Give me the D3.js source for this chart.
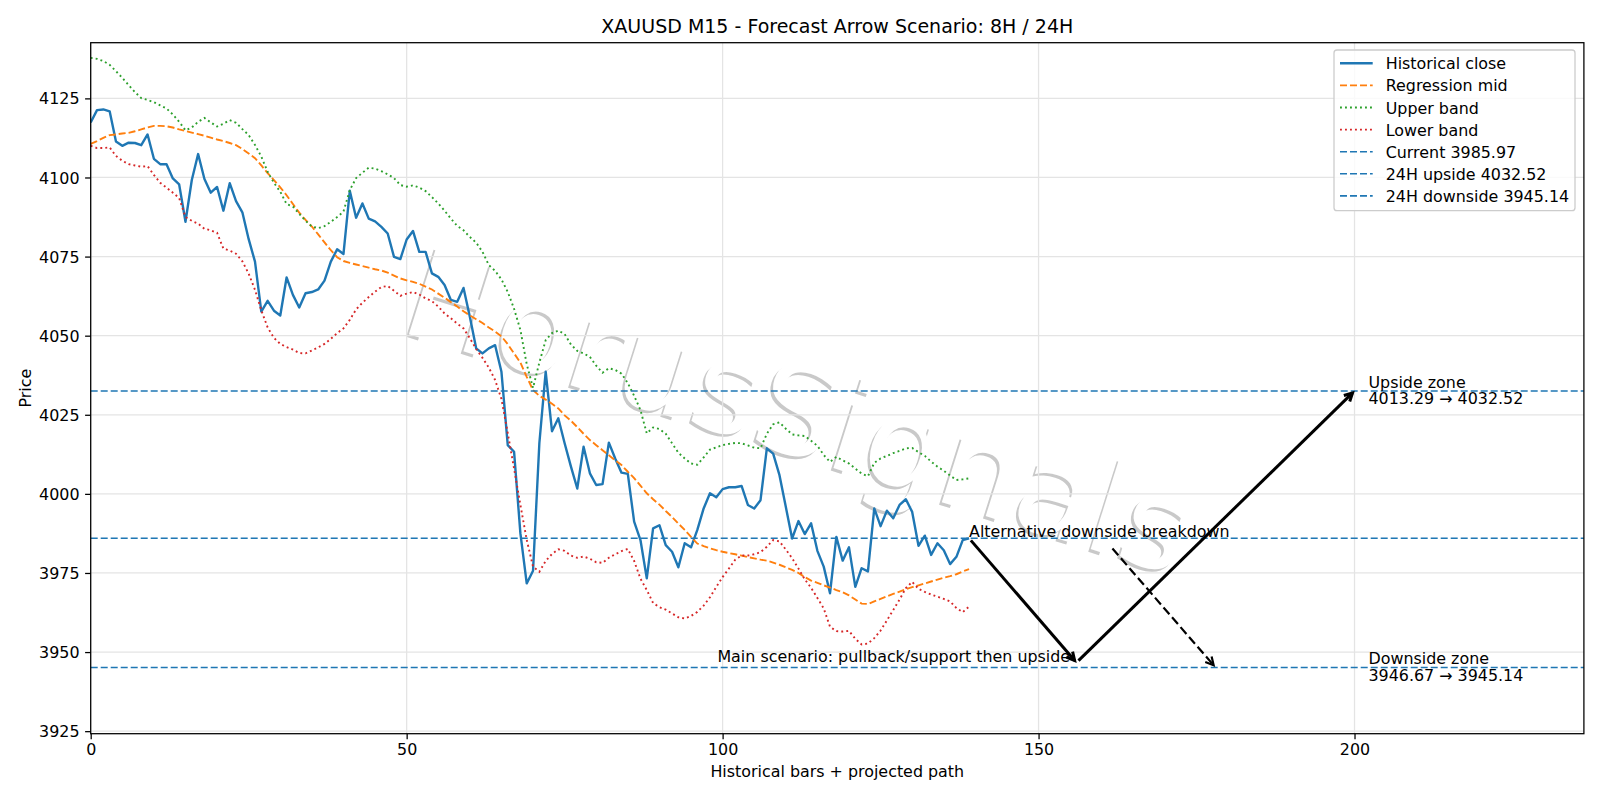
<!DOCTYPE html>
<html><head><meta charset="utf-8">
<script src="https://cdn.jsdelivr.net/npm/d3@7"></script>
<style>body{margin:0;background:#fff}svg text{font-family:"DejaVu Sans",sans-serif}</style>
</head><body>
<svg id="c" width="1600" height="800"></svg>
<script>
const closeSeries = [
4117.4,4121.3,4121.5,4120.9,4111.4,4110.0,4111.0,4110.9,4110.2,4113.6,
4105.9,4104.2,4104.2,4099.7,4097.8,4086.0,4099.2,4107.4,4099.5,4095.2,
4097.0,4089.5,4098.2,4092.5,4089.0,4080.5,4073.4,4057.6,4061.0,4057.9,
4056.4,4068.4,4062.9,4058.9,4063.4,4063.8,4064.6,4067.4,4073.4,4077.3,
4075.8,4095.8,4087.3,4091.8,4087.0,4086.1,4084.4,4082.3,4074.9,4074.2,
4080.4,4083.1,4076.5,4076.5,4069.7,4068.6,4066.0,4061.3,4060.7,4065.1,
4056.0,4046.0,4044.4,4046.0,4047.0,4038.6,4015.4,4013.3,3987.5,3971.7,
3975.7,4016.0,4038.6,4019.8,4023.9,4016.0,4008.6,4001.7,4014.9,4006.5,
4002.8,4003.1,4016.2,4011.2,4006.7,4006.3,3991.2,3985.4,3973.3,3989.1,
3990.1,3983.8,3981.7,3976.8,3984.4,3983.1,3988.6,3995.4,4000.2,3998.9,
4001.5,4002.1,4002.1,4002.5,3996.5,3995.4,3998.0,4014.4,4012.7,4005.9,
3995.9,3985.9,3991.4,3987.3,3990.7,3982.0,3977.0,3968.6,3986.4,3978.9,
3983.1,3970.6,3976.5,3975.5,3995.4,3989.8,3994.7,3992.3,3996.5,3998.3,
3994.3,3983.6,3986.8,3980.7,3984.4,3982.2,3977.8,3980.1,3985.4,3985.97];
const midSeries = [
4110.6,4111.5,4112.5,4113.4,4113.6,4113.9,4114.1,4114.6,4115.2,4115.8,
4116.3,4116.3,4116.2,4115.8,4115.2,4114.7,4114.2,4113.7,4113.2,4112.6,
4112.0,4111.5,4110.9,4110.2,4109.0,4107.6,4106.1,4103.8,4101.4,4099.2,
4096.9,4094.4,4091.6,4088.9,4086.6,4084.5,4082.0,4079.5,4077.0,4074.8,
4073.6,4073.0,4072.5,4072.0,4071.5,4071.0,4070.6,4069.9,4069.0,4068.1,
4067.5,4067.0,4066.4,4065.5,4064.6,4063.3,4062.0,4060.6,4059.2,4057.7,
4056.4,4055.2,4054.0,4052.6,4051.3,4049.8,4047.3,4044.4,4041.5,4037.0,
4032.8,4031.0,4029.8,4028.5,4027.0,4024.8,4023.1,4021.1,4019.0,4017.0,
4015.4,4013.8,4012.2,4010.6,4009.1,4007.0,4005.0,4002.6,4000.2,3998.3,
3996.6,3994.6,3992.7,3990.6,3988.6,3986.4,3984.3,3983.5,3982.8,3982.2,
3981.7,3981.3,3980.9,3980.5,3980.0,3979.6,3979.2,3978.9,3978.3,3977.6,
3976.8,3976.0,3975.0,3973.7,3972.6,3971.9,3971.1,3970.4,3969.6,3968.9,
3967.9,3966.6,3965.3,3965.2,3966.0,3966.8,3967.6,3968.4,3969.1,3969.9,
3970.5,3971.1,3971.7,3972.3,3972.9,3973.5,3974.0,3974.6,3975.5,3976.2];
const upperSeries = [
4137.8,4137.5,4136.8,4135.6,4133.6,4131.5,4129.2,4127.0,4125.1,4124.5,
4123.8,4122.8,4121.8,4119.9,4117.6,4114.9,4115.8,4117.6,4118.8,4117.4,
4116.1,4117.0,4118.1,4117.3,4115.3,4113.4,4110.3,4106.6,4101.8,4098.3,
4095.5,4091.6,4090.8,4088.5,4086.3,4084.5,4084.0,4084.6,4086.0,4087.5,
4089.2,4096.0,4099.8,4101.5,4103.1,4102.8,4102.0,4101.0,4099.8,4097.6,
4097.1,4097.5,4096.8,4095.7,4093.8,4091.8,4089.5,4087.0,4084.7,4083.3,
4081.2,4079.4,4076.5,4072.3,4070.5,4067.8,4063.8,4058.5,4051.8,4041.0,
4033.5,4041.5,4048.6,4050.8,4051.6,4050.5,4047.2,4045.2,4044.4,4043.3,
4040.5,4038.3,4039.7,4039.2,4038.0,4035.0,4031.0,4026.5,4019.1,4021.0,
4020.5,4019.0,4016.0,4013.0,4011.2,4009.6,4009.2,4011.5,4014.0,4014.7,
4015.4,4015.8,4016.1,4016.0,4015.3,4014.6,4014.4,4019.0,4022.0,4022.6,
4020.6,4018.8,4018.5,4018.3,4016.8,4015.2,4012.3,4010.1,4011.7,4010.6,
4009.6,4008.0,4006.4,4005.6,4009.8,4011.2,4012.0,4012.9,4013.6,4014.4,
4014.5,4013.2,4012.0,4010.2,4008.6,4007.3,4005.8,4004.4,4004.6,4004.9];
const lowerSeries = [
4110.0,4109.3,4109.3,4109.5,4106.8,4105.3,4104.2,4103.8,4103.4,4103.6,
4100.8,4098.3,4096.8,4095.2,4093.5,4087.5,4086.3,4085.4,4083.8,4083.3,
4082.5,4077.5,4076.9,4075.9,4073.5,4069.6,4064.5,4058.0,4052.6,4049.3,
4047.4,4046.4,4045.6,4044.5,4044.4,4045.3,4046.3,4047.4,4049.0,4050.8,
4052.3,4055.0,4058.3,4060.4,4062.2,4063.9,4065.4,4065.7,4064.2,4062.6,
4063.3,4063.8,4063.0,4061.8,4060.9,4059.2,4057.0,4055.5,4053.8,4052.3,
4049.2,4045.8,4043.0,4039.9,4036.0,4030.0,4019.2,4008.0,3996.5,3985.5,
3977.0,3975.4,3978.8,3981.0,3982.5,3982.0,3980.5,3979.8,3980.2,3979.5,
3978.4,3978.2,3979.8,3980.9,3981.9,3982.6,3978.8,3973.2,3969.6,3965.5,
3964.2,3963.4,3962.2,3961.0,3960.6,3961.4,3962.7,3964.7,3967.3,3970.6,
3973.7,3976.4,3979.2,3980.5,3980.5,3980.9,3981.6,3983.3,3985.4,3985.0,
3982.4,3979.7,3976.4,3973.0,3970.3,3967.1,3963.8,3958.0,3956.6,3956.5,
3956.7,3954.2,3952.4,3952.7,3954.4,3956.8,3960.0,3963.3,3966.6,3970.2,
3972.2,3970.0,3969.0,3968.2,3967.5,3966.8,3966.0,3963.9,3962.6,3964.4];

const xTicks = [0, 50, 100, 150, 200];
const yTicks = [3925, 3950, 3975, 4000, 4025, 4050, 4075, 4100, 4125];
const xDomain = [0, 236.3];
const yDomain = [3924.2, 4142.6];

const levelValues = [3985.97, 4032.52, 3945.14];
const levelNames = ["Current 3985.97", "24H upside 4032.52", "24H downside 3945.14"];
const seriesNames = ["Historical close", "Regression mid", "Upper band", "Lower band"];

const mainPathX = [139, 156, 200];
const mainPathY = [3985.97, 3946.67, 4032.52];
const altArrowX = [161.4, 178];
const altArrowY = [3983.4, 3945.14];

const zoneLabels = [
  {x: 202, y: 4032.52, lines: ["Upside zone", "4013.29 \u2192 4032.52"]},
  {x: 202, y: 3945.14, lines: ["Downside zone", "3946.67 \u2192 3945.14"]}
];
const mainText = {x: 155, y: 3946.67, text: "Main scenario: pullback/support then upside"};
const altText = {x: 139, y: 3985.97, text: "Alternative downside breakdown"};
const titleText = "XAUUSD M15 - Forecast Arrow Scenario: 8H / 24H";
const watermarkText = "HorusSignals";

// ---------- drawing ----------
const L = 90.7, R = 1583.9, T = 42.7, B = 733.7;
const svg = d3.select("#c");
const x = d3.scaleLinear().domain(xDomain).range([L, R]);
const y = d3.scaleLinear().domain(yDomain).range([B, T]);
const C = {blue: "#1f77b4", orange: "#ff7f0e", green: "#2ca02c", red: "#d62728"};
const FS = 15.9;

svg.append("rect").attr("width", 1600).attr("height", 800).attr("fill", "#fff");

svg.append("defs").append("clipPath").attr("id", "clip")
  .append("rect").attr("x", L).attr("y", T).attr("width", R - L).attr("height", B - T);

const plot = svg.append("g").attr("clip-path", "url(#clip)");

// watermark (white glyphs over an offset grey shadow)
const wm = plot.append("g");
wm.append("text").attr("transform", "translate(783.4,455.6) rotate(17.5)")
  .attr("text-anchor", "middle").attr("font-size", 125).attr("fill", "#c9c9c9").text(watermarkText);
wm.append("text").attr("transform", "translate(786,453) rotate(17.5)")
  .attr("text-anchor", "middle").attr("font-size", 125).attr("fill", "#fff").text(watermarkText);

// grid
plot.append("g").selectAll("line").data(xTicks).join("line")
  .attr("x1", d => x(d)).attr("x2", d => x(d)).attr("y1", T).attr("y2", B)
  .attr("stroke", "#e4e4e4").attr("stroke-width", 1.27);
plot.append("g").selectAll("line").data(yTicks).join("line")
  .attr("x1", L).attr("x2", R).attr("y1", d => y(d)).attr("y2", d => y(d))
  .attr("stroke", "#e4e4e4").attr("stroke-width", 1.27);

// series
const line = d3.line().x((d, i) => x(i)).y(d => y(d));
plot.append("path").datum(closeSeries).attr("d", line).attr("fill", "none")
  .attr("stroke", C.blue).attr("stroke-width", 2.4).attr("stroke-linejoin", "round");
plot.append("path").datum(midSeries).attr("d", line).attr("fill", "none")
  .attr("stroke", C.orange).attr("stroke-width", 1.9).attr("stroke-dasharray", "7,3");
plot.append("path").datum(upperSeries).attr("d", line).attr("fill", "none")
  .attr("stroke", C.green).attr("stroke-width", 1.9).attr("stroke-dasharray", "1.9,3.1");
plot.append("path").datum(lowerSeries).attr("d", line).attr("fill", "none")
  .attr("stroke", C.red).attr("stroke-width", 1.9).attr("stroke-dasharray", "1.9,3.1");

// horizontal levels
plot.append("g").selectAll("line").data(levelValues).join("line")
  .attr("x1", L).attr("x2", R).attr("y1", d => y(d)).attr("y2", d => y(d))
  .attr("stroke", C.blue).attr("stroke-width", 1.6).attr("stroke-dasharray", "7,3");

// arrows
function arrow(p0, p1, opt) {
  const dx = p1[0] - p0[0], dy = p1[1] - p0[1], len = Math.hypot(dx, dy);
  const ux = dx / len, uy = dy / len, s = 2.8;
  const a = [p0[0] + ux * s, p0[1] + uy * s], b = [p1[0] - ux * s, p1[1] - uy * s];
  const g = plot.append("g");
  g.append("line").attr("x1", a[0]).attr("y1", a[1]).attr("x2", b[0]).attr("y2", b[1])
    .attr("stroke", "#000").attr("stroke-width", opt.w)
    .attr("stroke-dasharray", opt.dash || null);
  const hl = 8, hw = 4.2, nx = -uy, ny = ux;
  const bx = b[0] - ux * hl, by = b[1] - uy * hl;
  g.append("path").attr("d", `M${bx + nx * hw},${by + ny * hw}L${b[0]},${b[1]}L${bx - nx * hw},${by - ny * hw}`)
    .attr("fill", "none").attr("stroke", "#000").attr("stroke-width", opt.w);
}
for (let k = 0; k < mainPathX.length - 1; k++) {
  arrow([x(mainPathX[k]), y(mainPathY[k])], [x(mainPathX[k + 1]), y(mainPathY[k + 1])], {w: 3});
}
arrow([x(altArrowX[0]), y(altArrowY[0])], [x(altArrowX[1]), y(altArrowY[1])], {w: 2.2, dash: "9,4"});

// annotation texts
svg.append("text").attr("x", x(mainText.x)).attr("y", y(mainText.y) - 0.8).attr("text-anchor", "end")
  .attr("font-size", FS).attr("fill", "#000").text(mainText.text);
svg.append("text").attr("x", x(altText.x)).attr("y", y(altText.y) - 1.5)
  .attr("font-size", FS).attr("fill", "#000").text(altText.text);
zoneLabels.forEach(z => {
  const t = svg.append("text").attr("font-size", FS).attr("fill", "#000");
  z.lines.forEach((ln, i) => {
    t.append("tspan").attr("x", x(z.x) + 1.3).attr("y", y(z.y) - 3.4 + i * 16.6).text(ln);
  });
});

// axes
const xAxis = svg.append("g").attr("transform", `translate(0,${B})`)
  .call(d3.axisBottom(x).tickValues(xTicks).tickFormat(d3.format("d")).tickSize(5.6).tickPadding(5.6));
const yAxis = svg.append("g").attr("transform", `translate(${L},0)`)
  .call(d3.axisLeft(y).tickValues(yTicks).tickFormat(d3.format("d")).tickSize(5.6).tickPadding(5.6));
[xAxis, yAxis].forEach(a => {
  a.select(".domain").remove();
  a.selectAll(".tick line").attr("stroke", "#000").attr("stroke-width", 1.27);
  a.selectAll(".tick text").attr("font-size", FS).attr("fill", "#000")
    .attr("font-family", '"DejaVu Sans", sans-serif');
});
xAxis.selectAll(".tick text").attr("dy", null).attr("y", 21.3);
yAxis.selectAll(".tick text").attr("dy", "0.35em");

svg.append("rect").attr("x", L).attr("y", T).attr("width", R - L).attr("height", B - T)
  .attr("fill", "none").attr("stroke", "#000").attr("stroke-width", 1.27);

// titles
svg.append("text").attr("x", (L + R) / 2).attr("y", 33).attr("text-anchor", "middle")
  .attr("font-size", 19).attr("fill", "#000").text(titleText);
svg.append("text").attr("x", (L + R) / 2).attr("y", 777).attr("text-anchor", "middle")
  .attr("font-size", FS).attr("fill", "#000").text("Historical bars + projected path");
svg.append("text").attr("transform", `translate(31,${(T + B) / 2}) rotate(-90)`).attr("text-anchor", "middle")
  .attr("font-size", FS).attr("fill", "#000").text("Price");

// legend
const lg = svg.append("g");
lg.append("rect").attr("x", 1334).attr("y", 50).attr("width", 241).attr("height", 160.7).attr("rx", 3)
  .attr("fill", "#fff").attr("fill-opacity", 0.8).attr("stroke", "#cccccc").attr("stroke-width", 1.27);
const legendItems = [
  {name: seriesNames[0], color: C.blue, w: 2.4, dash: null},
  {name: seriesNames[1], color: C.orange, w: 1.9, dash: "7,3"},
  {name: seriesNames[2], color: C.green, w: 1.9, dash: "1.9,3.1"},
  {name: seriesNames[3], color: C.red, w: 1.9, dash: "1.9,3.1"},
  ...levelNames.map(n => ({name: n, color: C.blue, w: 1.6, dash: "7,3"}))
];
legendItems.forEach((it, i) => {
  const cy = 63.3 + i * 22.1;
  lg.append("line").attr("x1", 1340).attr("x2", 1372.7).attr("y1", cy).attr("y2", cy)
    .attr("stroke", it.color).attr("stroke-width", it.w).attr("stroke-dasharray", it.dash);
  lg.append("text").attr("x", 1385.7).attr("y", cy + 6).attr("font-size", FS).attr("fill", "#000").text(it.name);
});
</script>
</body></html>
